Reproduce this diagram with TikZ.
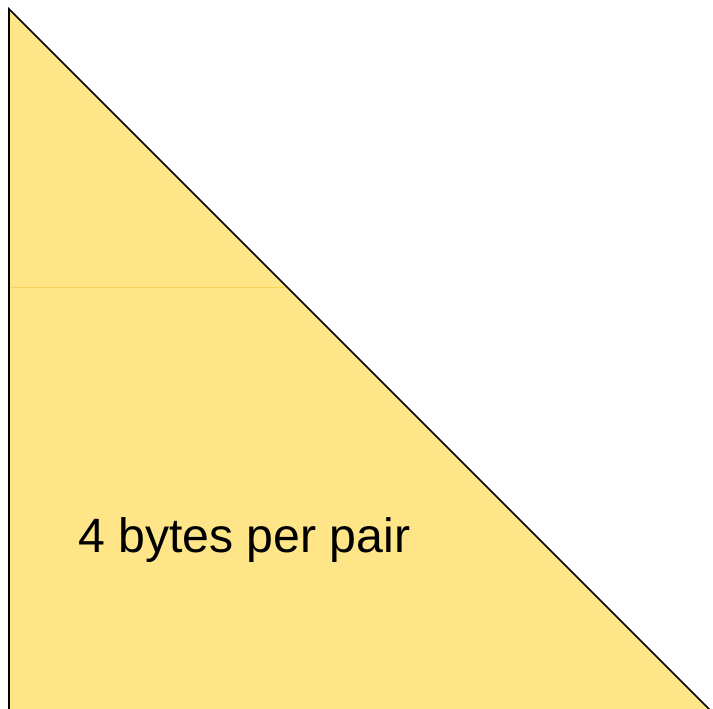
\documentclass[tikz,border=0pt]{standalone}
\usepackage{fontspec}
\setmainfont{Liberation Sans}
\begin{document}
\begin{tikzpicture}[x=1pt,y=1pt,
  wedge/.style={fill=wedgefill,draw=none},
  wedgeedge/.style={draw=black,line width=1.6pt,line join=miter},
  divider/.style={draw=dividerline,line width=0.9pt},
  caption/.style={font=\fontsize{48.2}{58}\selectfont,inner sep=0pt,anchor=base west,text=black}]
  \definecolor{wedgefill}{HTML}{FEE588}
  \definecolor{dividerline}{HTML}{F8D45A}
  \useasboundingbox (0,0) rectangle (713,709);
  % corners of the wedge
  \coordinate (apex) at (9,700);
  \coordinate (foot) at (9,-3);
  \coordinate (tip) at (712,-3);
  \path[wedge] (apex) -- (foot) -- (tip) -- cycle;
  % thin divider across the upper part
  \coordinate (divL) at (10,422);
  \coordinate (divR) at (287,422);
  \draw[divider] (divL) -- (divR);
  % outline: left side and slanted side
  \draw[wedgeedge] (foot) -- (apex) -- (tip);
  \node[caption] (label) at (78,156) {4 bytes per pair};
\end{tikzpicture}
\end{document}
